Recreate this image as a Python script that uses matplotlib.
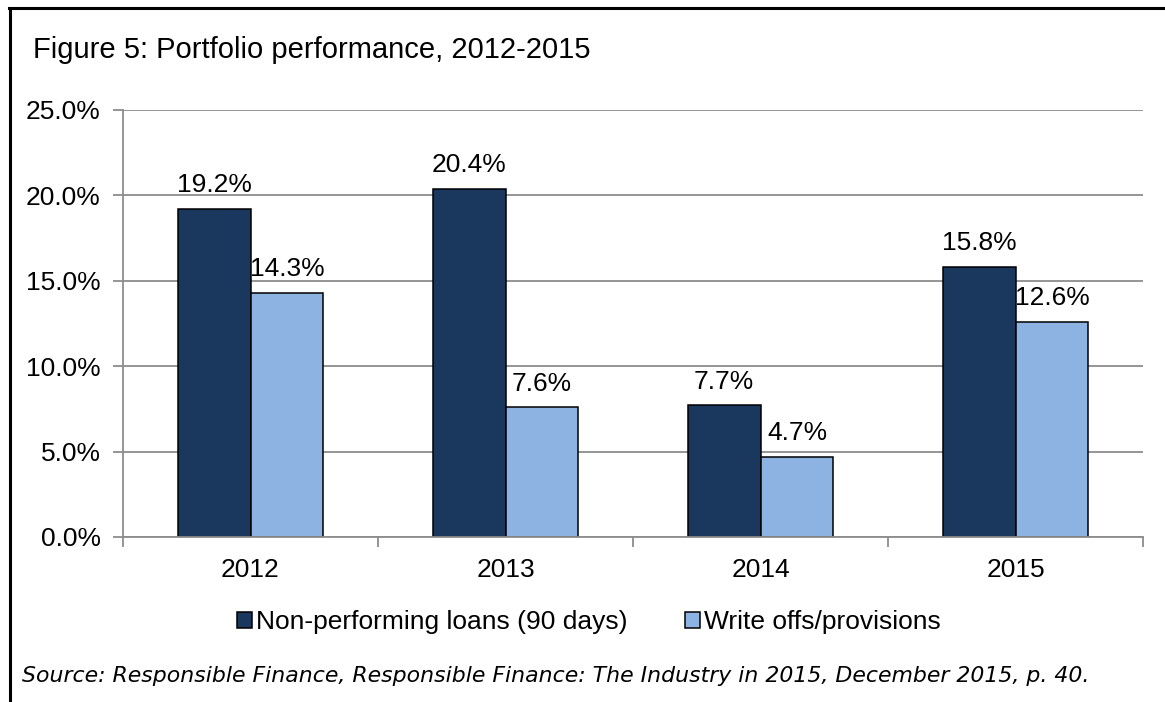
import matplotlib
matplotlib.use("Agg")
import matplotlib.pyplot as plt
from matplotlib.lines import Line2D
from matplotlib.patches import Patch
import numpy as np

plt.rcParams['font.family'] = ['Liberation Sans', 'DejaVu Sans']

categories = ["2012", "2013", "2014", "2015"]
npl = [19.2, 20.4, 7.7, 15.8]
writeoffs = [14.3, 7.6, 4.7, 12.6]
series_names = ["Non-performing loans (90 days)", "Write offs/provisions"]
y_ticks = [0, 5, 10, 15, 20, 25]
title = "Figure 5: Portfolio performance, 2012-2015"
source = "Source: Responsible Finance, Responsible Finance: The Industry in 2015, December 2015, p. 40."

dark = "#1A375E"
light = "#8DB3E2"
grey = "#8C8C8C"
fs = 19

W, H = 1165, 702
fig = plt.figure(figsize=(W / 100, H / 100), dpi=100)
ax = fig.add_axes([123 / W, 1 - 537 / H, (1143 - 123) / W, (537 - 110) / H])

x = np.arange(len(categories))
bw = 0.286
b1 = ax.bar(x - bw / 2, npl, bw, color=dark, edgecolor="black", linewidth=1.1, zorder=3,
            label=series_names[0])
b2 = ax.bar(x + bw / 2, writeoffs, bw, color=light, edgecolor="black", linewidth=1.1, zorder=3,
            label=series_names[1])

for bars, vals in ((b1, npl), (b2, writeoffs)):
    for r, v in zip(bars, vals):
        ax.annotate(f"{v:.1f}%", (r.get_x() + r.get_width() / 2, v), xytext=(0, 12),
                    textcoords="offset points", ha="center", va="baseline", fontsize=fs,
                    color="black", zorder=4)

ax.set_xlim(-0.5, len(categories) - 0.5)
ax.set_ylim(0, 25)
ax.set_yticks(y_ticks)
ax.set_yticklabels([f"{t:.1f}%" for t in y_ticks], fontsize=fs)
ax.set_xticks(np.arange(-0.5, len(categories), 1.0))
ax.set_xticklabels([])
ax.set_xticks(x, minor=True)
ax.set_xticklabels(categories, minor=True, fontsize=fs)
ax.tick_params(axis="x", which="minor", length=0, pad=15)
ax.tick_params(axis="x", which="major", length=7, width=1.3, color=grey, direction="out")
ax.tick_params(axis="y", length=7, width=1.3, color=grey, direction="out", pad=9)

ax.grid(axis="y", color=grey, linewidth=1.3, zorder=0)
ax.set_axisbelow(True)
for s in ("top", "right"):
    ax.spines[s].set_visible(False)
for s in ("left", "bottom"):
    ax.spines[s].set_color(grey)
    ax.spines[s].set_linewidth(1.3)
    ax.spines[s].set_zorder(5)

handles = [Patch(facecolor=dark, edgecolor="black", linewidth=1.1),
           Patch(facecolor=light, edgecolor="black", linewidth=1.1)]
fig.legend(handles, series_names, loc="center", bbox_to_anchor=(589 / W, 1 - 622 / H),
           ncol=2, frameon=False, fontsize=fs, handlelength=0.55, handleheight=0.55,
           handletextpad=0.15, columnspacing=2.2)

fig.text(33 / W, 1 - 50 / H, title, fontsize=21, ha="left", va="center")
fig.text(22 / W, 1 - 676 / H, source, fontsize=15.8, ha="left", va="center",
         family="DejaVu Sans", style="italic")

fig.add_artist(Line2D([10 / W, 10 / W], [0, 1 - 8 / H], color="black", linewidth=2.2,
                      transform=fig.transFigure))
fig.add_artist(Line2D([9 / W, 1], [1 - 8 / H, 1 - 8 / H], color="black", linewidth=2.2,
                      transform=fig.transFigure))

fig.savefig("out.png", dpi=100)
